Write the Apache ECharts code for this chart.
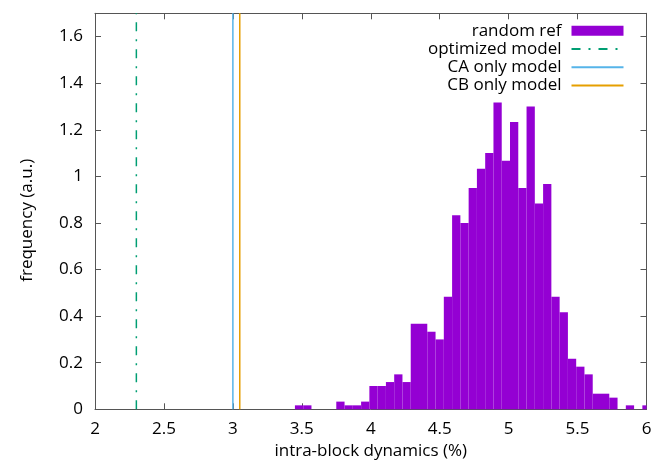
<!DOCTYPE html>
<html>
<head>
<meta charset="utf-8">
<script src="https://cdn.jsdelivr.net/npm/echarts@6/dist/echarts.min.js"></script>
<style>
html,body{margin:0;padding:0;background:#fff;}
#chart{width:655px;height:466px;}
</style>
</head>
<body>
<div id="chart"></div>
<script>
// ---- data ----
const binWidth = 0.06;
const binCenters = [3.48, 3.54, 3.78, 3.84, 3.90, 3.96, 4.02, 4.08, 4.14, 4.20, 4.26, 4.32, 4.38, 4.44, 4.50, 4.56, 4.62, 4.68, 4.74, 4.80, 4.86, 4.92, 4.98, 5.04, 5.10, 5.16, 5.22, 5.28, 5.34, 5.40, 5.46, 5.52, 5.58, 5.64, 5.70, 5.76, 5.88, 6.00];
const randomRef = [0.017, 0.017, 0.033, 0.017, 0.017, 0.033, 0.100, 0.100, 0.117, 0.150, 0.117, 0.367, 0.367, 0.333, 0.300, 0.483, 0.833, 0.800, 0.950, 1.033, 1.100, 1.317, 1.067, 1.233, 0.950, 1.300, 0.883, 0.967, 0.483, 0.417, 0.217, 0.183, 0.150, 0.067, 0.067, 0.050, 0.017, 0.017];
const optimizedModel = 2.30;
const caOnlyModel = 3.00;
const cbOnlyModel = 3.05;
const xTicks = [2, 2.5, 3, 3.5, 4, 4.5, 5, 5.5, 6];
const yTicks = [0, 0.2, 0.4, 0.6, 0.8, 1, 1.2, 1.4, 1.6];
const yMax = 1.7;

const FONT = 'Open Sans';
const FS = 17;
const frameColor = '#555555';

const chart = echarts.init(document.getElementById('chart'), null, {renderer: 'canvas'});

function xAxisCfg(isTop) {
  return {
    type: 'value', min: xTicks[0], max: xTicks[xTicks.length - 1], interval: 0.5,
    position: isTop ? 'top' : 'bottom',
    name: isTop ? '' : 'intra-block dynamics (%)',
    nameLocation: 'middle', nameGap: 31,
    nameTextStyle: {fontFamily: FONT, fontSize: FS, color: '#000'},
    axisLine: {show: true, onZero: false, lineStyle: {color: frameColor, width: 1}},
    axisTick: {show: true, inside: true, length: 6, lineStyle: {color: frameColor}},
    axisLabel: {show: !isTop, margin: 11, fontFamily: FONT, fontSize: FS, color: '#000',
      formatter: v => String(v)},
    splitLine: {show: false}
  };
}
function yAxisCfg(isRight) {
  return {
    type: 'value', min: 0, max: yMax, interval: 0.2,
    position: isRight ? 'right' : 'left',
    name: isRight ? '' : 'frequency (a.u.)',
    nameLocation: 'middle', nameGap: 59, nameRotate: 90,
    nameTextStyle: {fontFamily: FONT, fontSize: FS, color: '#000', padding: [0, 18, 0, 0]},
    axisLine: {show: true, onZero: false, lineStyle: {color: frameColor, width: 1}},
    axisTick: {show: true, inside: true, length: 6, lineStyle: {color: frameColor}},
    axisLabel: {show: !isRight, margin: 12, fontFamily: FONT, fontSize: FS, color: '#000',
      formatter: v => (yTicks.some(t => Math.abs(t - v) < 1e-9) ? String(+v.toFixed(1)) : '')},
    splitLine: {show: false}
  };
}

function vline(name, x, color, dash) {
  return {
    name: name, type: 'line', xAxisIndex: 0, yAxisIndex: 0,
    data: [[x, 0], [x, yMax]],
    symbol: 'none', silent: true, animation: false,
    lineStyle: {color: color, width: 1.5, type: dash || 'solid'},
    itemStyle: {color: color}
  };
}
const hiddenSymbol = {color: 'rgba(0,0,0,0)', borderColor: 'rgba(0,0,0,0)', borderWidth: 0, opacity: 0};

chart.setOption({
  animation: false,
  backgroundColor: '#fff',
  grid: {left: 95, right: 8.5, top: 13.3, bottom: 56.7, containLabel: false},
  xAxis: [xAxisCfg(false), xAxisCfg(true)],
  yAxis: [yAxisCfg(false), yAxisCfg(true)],
  legend: {
    orient: 'vertical', align: 'right',
    right: 30.5, top: 22.2, padding: 0,
    itemWidth: 52, itemHeight: 10, itemGap: 1.3,
    textStyle: {fontFamily: FONT, fontSize: FS, color: '#000', lineHeight: 17, padding: [0, 5, 0, 0]},
    data: [
      {name: 'random ref', icon: 'rect'},
      {name: 'optimized model', itemStyle: hiddenSymbol},
      {name: 'CA only model', itemStyle: hiddenSymbol},
      {name: 'CB only model', itemStyle: hiddenSymbol}
    ]
  },
  series: [
    {
      name: 'random ref', type: 'custom', xAxisIndex: 0, yAxisIndex: 0,
      data: binCenters.map((c, i) => [c, randomRef[i]]),
      itemStyle: {color: '#9400d3'},
      renderItem: function (params, api) {
        const c = api.value(0), h = api.value(1);
        const p0 = api.coord([c - binWidth / 2, h]);
        const p1 = api.coord([c + binWidth / 2, 0]);
        const cs = params.coordSys;
        const r = echarts.graphic.clipRectByRect(
          {x: p0[0], y: p0[1], width: p1[0] - p0[0], height: p1[1] - p0[1]},
          {x: cs.x, y: cs.y, width: cs.width, height: cs.height});
        if (!r) return null;
        return {type: 'rect', shape: r, style: {fill: '#9400d3'}};
      }
    },
    vline('optimized model', optimizedModel, '#009e73', [9, 8, 2, 8]),
    vline('CA only model', caOnlyModel, '#56b4e9'),
    vline('CB only model', cbOnlyModel, '#e69f00')
  ]
});
</script>
</body>
</html>
